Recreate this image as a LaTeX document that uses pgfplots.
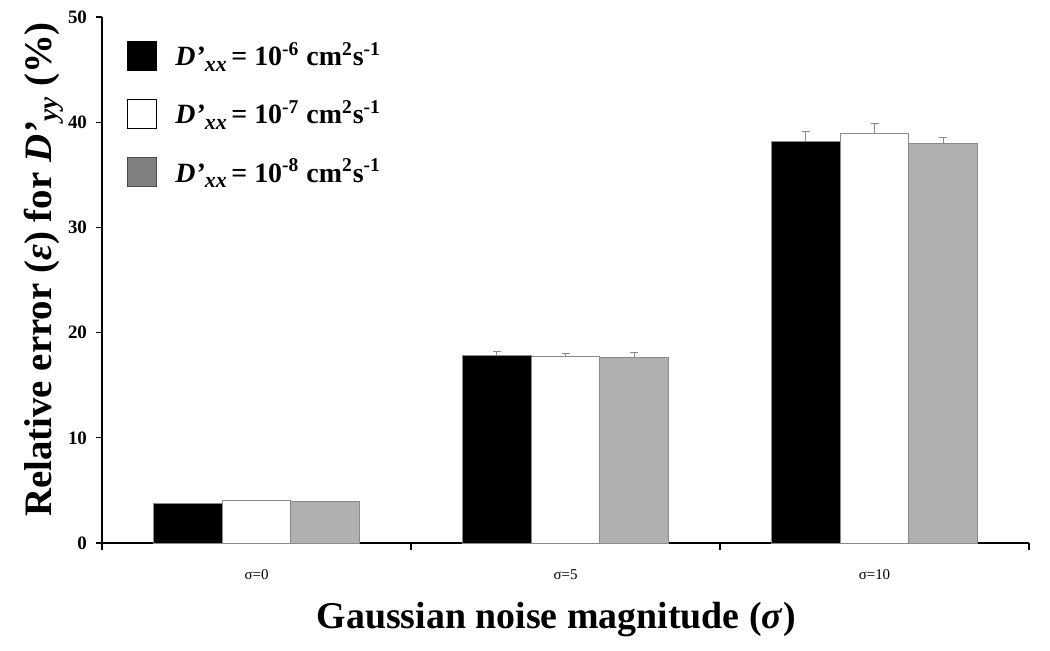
\documentclass[border=0pt]{standalone}
\usepackage{fontspec}
\setmainfont{Liberation Serif}
\usepackage{pgfplots}
\pgfplotsset{compat=1.18}
\definecolor{barg}{HTML}{B0B0B0}
\definecolor{legg}{HTML}{808080}
\definecolor{edge}{HTML}{8A8A8A}

\pgfplotstableread{
x  y     e
0  3.8   0
1  17.85 0.4
2  38.2  0.95
}\sixdata
\pgfplotstableread{
x  y     e
0  4.0   0
1  17.75 0.3
2  38.95 0.95
}\sevendata
\pgfplotstableread{
x  y     e
0  3.9   0
1  17.6  0.5
2  38.0  0.5
}\eightdata

\newcommand{\legtext}[1]{\textbf{\textit{D’}\raisebox{-0.45ex}{\fontsize{11}{12}\selectfont\textit{xx}}\,= 10\textsuperscript{-#1} cm\textsuperscript{2}s\textsuperscript{-1}}}

\begin{document}
\begin{tikzpicture}
\begin{axis}[
  scale only axis,
  width=463.5bp, height=263bp,
  ybar, bar width=0.222,
  xmin=-0.5, xmax=2.5,
  ymin=0, ymax=50,
  ytick={0,10,...,50},
  xtick={0,1,2},
  xticklabels={σ=0,σ=5,σ=10},
  minor xtick={-0.5,0.5,1.5,2.5},
  major x tick style={draw=none},
  minor tick length=3.5bp,
  major tick length=3bp,
  tick align=outside,
  tick style={black, line width=0.7pt},
  axis x line*=bottom, axis y line*=left,
  axis line style={line width=0.9pt},
  /pgf/number format/assume math mode=true,
  y tick label style={font=\fontsize{9.5}{10}\selectfont\bfseries, xshift=-1bp},
  x tick label style={font=\fontsize{7.5}{9}\selectfont, yshift=-7bp},
  ylabel={\textbf{Relative error (\textit{ε}) for \textit{D’}\textsubscript{\textit{yy}} (\%)}},
  ylabel style={font=\fontsize{19.5}{22}\selectfont, at={(axis description cs:-0.063,0.52)}, anchor=center},
  xlabel={\textbf{Gaussian noise magnitude (\textit{σ})}},
  xlabel style={font=\fontsize{19}{22}\selectfont, at={(axis description cs:0.49,-0.146)}, anchor=center},
  error bars/y dir=plus, error bars/y explicit,
  error bars/error bar style={edge, line width=0.5pt},
  error bars/error mark options={rotate=90, mark size=2bp, edge, line width=0.5pt},
  legend style={draw=none, fill=none, at={(axis description cs:0.02,0.968)}, anchor=north west,
    font=\fontsize{14}{16}\selectfont, row sep=12bp, legend cell align=left},
  legend image code/.code={\draw[#1, line width=0.5pt] (0bp,-7.5bp) rectangle (14.5bp,7bp);
    \path[draw=none, fill=none] (0bp,0bp) -- (22bp,0bp);},
]
\addlegendimage{fill=black, draw=black}
\addlegendentry{\legtext{6}}
\addlegendimage{fill=white, draw=black}
\addlegendentry{\legtext{7}}
\addlegendimage{fill=legg, draw=black!70}
\addlegendentry{\legtext{8}}
\addplot[forget plot, fill=black, draw=edge, line width=0.5pt, bar shift=-0.222] table[x=x, y=y, y error=e] {\sixdata};
\addplot[forget plot, fill=white, draw=edge, line width=0.5pt, bar shift=0] table[x=x, y=y, y error=e] {\sevendata};
\addplot[forget plot, fill=barg, draw=edge, line width=0.5pt, bar shift=0.222] table[x=x, y=y, y error=e] {\eightdata};
\end{axis}
\useasboundingbox (-51bp,-54bp) rectangle (474bp,271.5bp);
\end{tikzpicture}
\end{document}
